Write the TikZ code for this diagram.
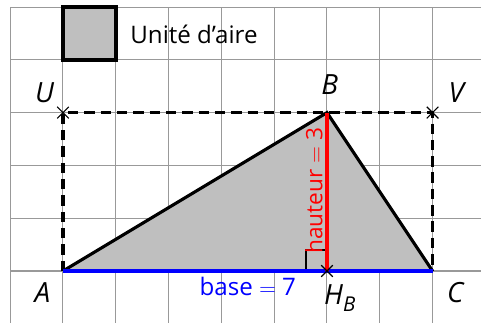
\documentclass[tikz,border=0pt]{standalone}
\usepackage{fontspec}
\setmainfont{Open Sans}
\begin{document}
\begin{tikzpicture}[
  gridline/.style={draw=gray!80, line width=0.55pt},
  edge/.style={draw=black, line width=1.7pt},
  dashedge/.style={draw=black, line width=1.9pt, dash pattern=on 5.6pt off 3.2pt},
  lbl/.style={font=\fontsize{15}{17}\selectfont\itshape, inner sep=0pt},
  txt/.style={font=\fontsize{13}{15}\selectfont, inner sep=0pt},
  crossmark/.style={draw=black, line width=0.6pt}
]
\useasboundingbox (-1.193,-0.966) rectangle (7.917,5.133);
\fill[white] (-1.193,-0.966) rectangle (7.917,5.133);
\draw[gridline] (-1,-1) grid (8,5);
% unit square
\filldraw[fill=gray!50, draw=black, line width=1.9pt] (0,4) rectangle (1,5);
\node[txt, anchor=base west] (unit) at (1.27,4.30) {Unité d’aire};
% points
\coordinate (A) at (0,0);
\coordinate (B) at (5,3);
\coordinate (C) at (7,0);
\coordinate (U) at (0,3);
\coordinate (V) at (7,3);
\coordinate (H) at (5,0);
% triangle
\fill[gray!50] (A) -- (B) -- (C) -- cycle;
\draw[dashedge] (A) -- (U) -- (V) -- (C);
\draw[edge] (A) -- (B) -- (C);
\draw[draw=black, line width=1.1pt] ([xshift=-0.4cm]H) -- ++(0,0.4) -- ++(0.4,0);
\draw[draw=blue, line width=2.4pt] (A) -- (C);
\draw[draw=red, line width=2.1pt] (B) -- (H);
% crosses
\foreach \p in {U,V,H}{
  \draw[crossmark] ([shift={(-0.11,-0.11)}]\p) -- ([shift={(0.11,0.11)}]\p);
  \draw[crossmark] ([shift={(-0.11,0.11)}]\p) -- ([shift={(0.11,-0.11)}]\p);
}
% labels
\node[lbl, anchor=base] (lU) at (-0.35,3.195) {U};
\node[lbl, anchor=base] (lB) at (5.05,3.35) {B};
\node[lbl, anchor=base] (lV) at (7.45,3.195) {V};
\node[lbl, anchor=base] (lA) at (-0.39,-0.60) {A};
\node[lbl, anchor=base] (lC) at (7.43,-0.59) {C};
\node[lbl, anchor=base west] (lH) at (4.94,-0.625) {H\raisebox{-0.5ex}{\fontsize{11}{12}\selectfont B}};
\node[txt, text=blue, anchor=base] (base) at (3.5,-0.473) {base${}={}$7};
\node[txt, text=red, rotate=90, anchor=base, font=\fontsize{12.2}{14}\selectfont] (haut) at (4.915,1.525) {hauteur${}={}$3};
\end{tikzpicture}
\end{document}
